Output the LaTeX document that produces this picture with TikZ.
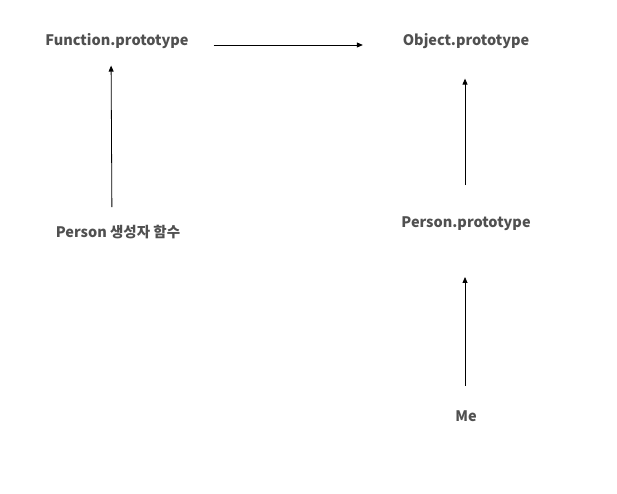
\documentclass[tikz,border=0pt]{standalone}
\usepackage{fontspec}
\setmainfont{Noto Sans CJK KR}
\usepackage{xcolor}
\definecolor{labelgray}{HTML}{505050}
\usetikzlibrary{positioning}
\usetikzlibrary{arrows.meta}
\begin{document}
\begin{tikzpicture}[x=1pt,y=-1pt,every node/.style={inner sep=0,outer sep=0,text=labelgray,font=\fontsize{14.5}{17}\selectfont\bfseries},link/.style={-{Triangle[length=6pt,width=5pt]},line width=0.8pt,black}]
    \useasboundingbox (0,0) rectangle (617,494);
    \node (FP) at (117,41) {Function.prototype};
    \node (OP) at (466,41) {Object.prototype};
    \node (PC) at (118,232) {Person 생성자 함수};
    \node (PP) at (466,224) {Person.prototype};
    \node (ME) at (466,416) {Me};
    \draw[link,shorten <=25pt,shorten >=40pt] ([yshift=-4pt]FP.east) -- ([yshift=-4pt]OP.west);
    \draw[link,shorten <=18pt,shorten >=17pt] ([xshift=-6pt]PC.north) -- ([xshift=-6pt]FP.south);
    \draw[link,shorten <=32pt,shorten >=30pt] ([xshift=-1pt]PP.north) -- ([xshift=-1pt]OP.south);
    \draw[link,shorten <=25pt,shorten >=46pt] ([xshift=-1pt]ME.north) -- ([xshift=-1pt]PP.south);
\end{tikzpicture}
\end{document}
